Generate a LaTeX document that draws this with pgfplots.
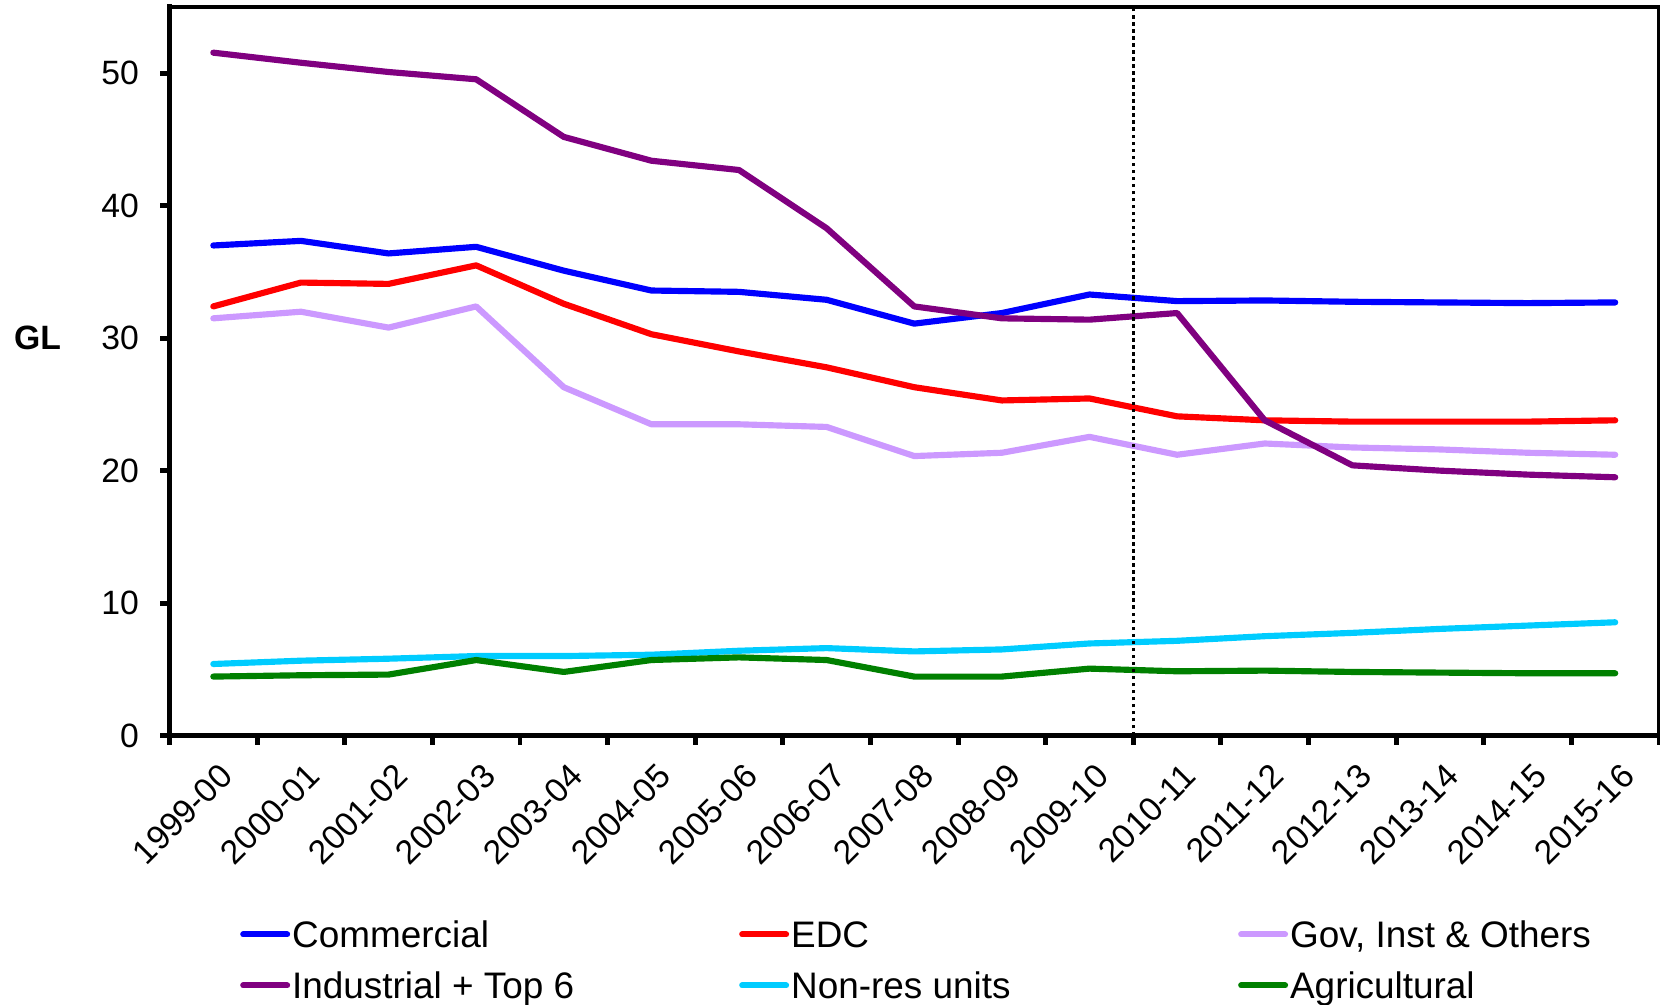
\documentclass[border=0pt]{standalone}
\usepackage{fontspec}
\setmainfont{Liberation Sans}
\usepackage{pgfplots}
\pgfplotsset{compat=1.18}

\definecolor{commercial}{HTML}{0000FF}
\definecolor{edc}{HTML}{FF0000}
\definecolor{gov}{HTML}{CC99FF}
\definecolor{industrial}{HTML}{800080}
\definecolor{nonres}{HTML}{00CCFF}
\definecolor{agri}{HTML}{008000}

\newcommand{\ticksize}{\fontsize{9.6}{11.5}\selectfont}
\newcommand{\legsize}{\fontsize{10.5}{12.6}\selectfont}

\begin{document}
\begin{tikzpicture}
\path[use as bounding box] (-16.95mm,-26.85mm) rectangle (149.05mm,73.55mm);
\begin{axis}[
  at={(0,0)}, anchor=south west,
  scale only axis, width=148.95mm, height=72.84mm,
  xmin=-0.5, xmax=16.5, ymin=0, ymax=55,
  clip=false,
  xtick={-0.5,0.5,...,16.5},
  x tick label as interval,
  xticklabels={1999-00,2000-01,2001-02,2002-03,2003-04,2004-05,2005-06,2006-07,2007-08,2008-09,2009-10,2010-11,2011-12,2012-13,2013-14,2014-15,2015-16},
  ytick={0,10,20,30,40,50},
  xtick pos=bottom, ytick pos=left,
  tick align=outside,
  major tick length=0.9mm,
  tick style={line width=1.4pt, black},
  axis line style={line width=1.1pt},
  font=\ticksize,
  /pgf/number format/assume math mode=true,
  xticklabel style={xshift=0.45mm, yshift=-1.65mm, rotate=45, anchor=north east,
    inner sep=0pt, font=\ticksize},
  yticklabel style={anchor=east, inner sep=0pt, font=\ticksize, xshift=-2.1mm},
  legend columns=3,
  legend style={draw=none, fill=none, inner sep=0pt,
    at={(0,0)}, anchor=north west, xshift=7.0mm, yshift=-18.5mm,
    cells={anchor=west}, row sep=2.45mm,
    nodes={inner xsep=0.2mm, inner ysep=0pt, text height=2.65mm, text depth=0pt,
      font=\legsize}},
  legend image code/.code={\draw[line width=1.7pt, line cap=round] (0mm,0mm) -- (4.4mm,0mm);},
  every axis plot/.append style={line width=1.75pt, line join=round, line cap=round, mark=none},
]
\addplot[commercial] coordinates {(0,37.0) (1,37.35) (2,36.4) (3,36.9) (4,35.1) (5,33.6) (6,33.5) (7,32.9) (8,31.1) (9,31.9) (10,33.3) (11,32.8) (12,32.85) (13,32.75) (14,32.7) (15,32.65) (16,32.7)};
\addlegendentry{\makebox[44.5mm][l]{Commercial}}
\addplot[edc] coordinates {(0,32.4) (1,34.2) (2,34.1) (3,35.5) (4,32.6) (5,30.3) (6,29.0) (7,27.8) (8,26.3) (9,25.3) (10,25.45) (11,24.1) (12,23.8) (13,23.7) (14,23.7) (15,23.7) (16,23.8)};
\addlegendentry{\makebox[44.5mm][l]{EDC}}
\addplot[gov] coordinates {(0,31.5) (1,32.0) (2,30.8) (3,32.4) (4,26.3) (5,23.5) (6,23.5) (7,23.3) (8,21.1) (9,21.35) (10,22.55) (11,21.2) (12,22.05) (13,21.75) (14,21.6) (15,21.35) (16,21.2)};
\addlegendentry{\makebox[44.5mm][l]{Gov, Inst \& Others}}
\addplot[industrial] coordinates {(0,51.56) (1,50.8) (2,50.1) (3,49.55) (4,45.2) (5,43.4) (6,42.7) (7,38.3) (8,32.4) (9,31.5) (10,31.4) (11,31.9) (12,23.8) (13,20.4) (14,20.0) (15,19.7) (16,19.5)};
\addlegendentry{\makebox[44.5mm][l]{Industrial + Top 6}}
\addplot[nonres] coordinates {(0,5.4) (1,5.65) (2,5.8) (3,6.0) (4,6.0) (5,6.1) (6,6.4) (7,6.6) (8,6.35) (9,6.5) (10,6.95) (11,7.15) (12,7.5) (13,7.75) (14,8.05) (15,8.3) (16,8.55)};
\addlegendentry{\makebox[44.5mm][l]{Non-res units}}
\addplot[agri] coordinates {(0,4.45) (1,4.55) (2,4.6) (3,5.7) (4,4.8) (5,5.7) (6,5.9) (7,5.7) (8,4.45) (9,4.45) (10,5.05) (11,4.85) (12,4.9) (13,4.8) (14,4.75) (15,4.7) (16,4.7)};
\addlegendentry{\makebox[44.5mm][l]{Agricultural}}
% boundary between the two periods
\addplot[black, line width=0.9pt, line cap=butt, dash pattern=on 1pt off 1pt, forget plot] coordinates {(10.5,0) (10.5,55)};
% heavier left and bottom axis lines
\draw[line width=1.6pt, line cap=rect] (rel axis cs:0,1) -- (rel axis cs:0,0) -- (rel axis cs:1,0);
\node[font=\bfseries\ticksize] at ([xshift=-13.2mm]axis cs:-0.5,30) {GL};
\end{axis}
\end{tikzpicture}
\end{document}
